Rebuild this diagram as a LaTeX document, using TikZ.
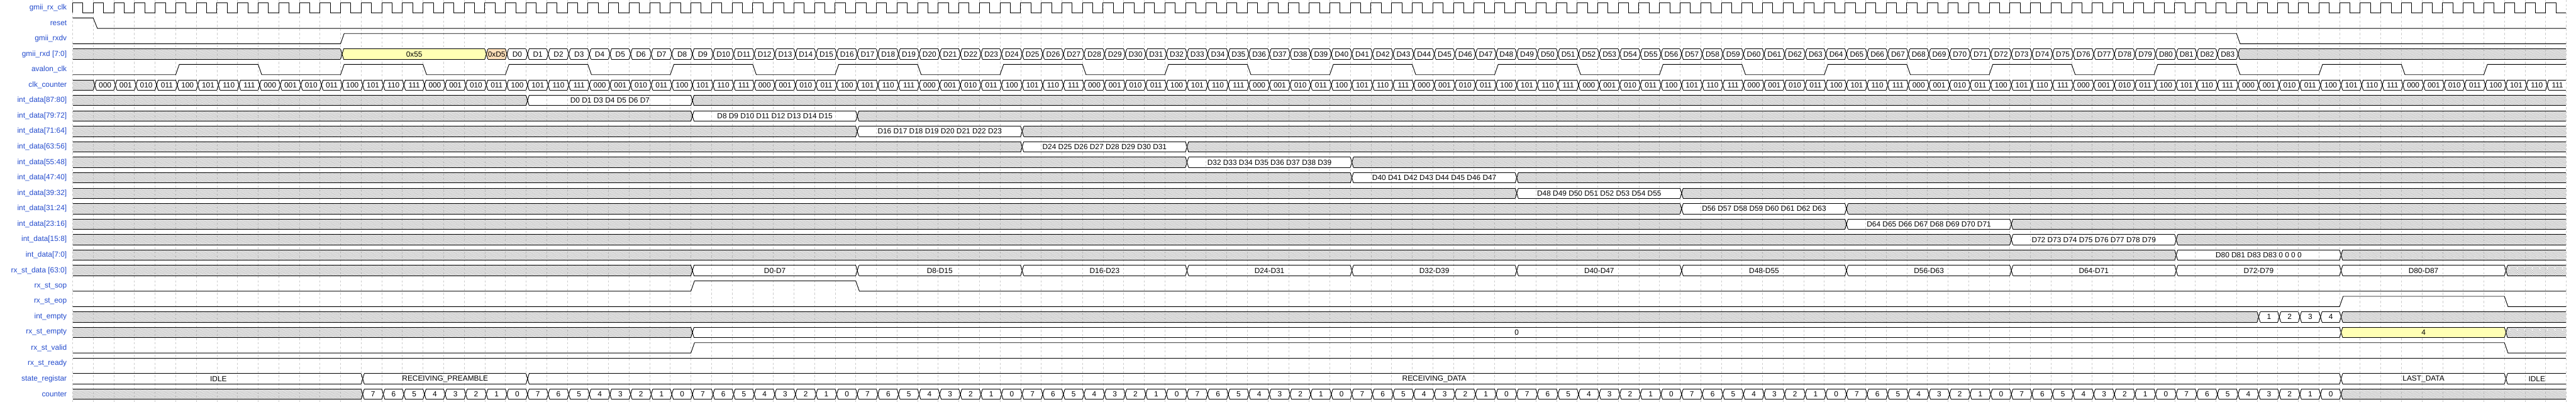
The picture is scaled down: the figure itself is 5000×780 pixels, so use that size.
\documentclass[tikz,border=0pt]{standalone}
\usepackage{fontspec}
\setmainfont{Liberation Sans}
\usetikzlibrary{patterns}
\definecolor{labelblue}{RGB}{35,75,205}
\definecolor{busyellow}{RGB}{255,255,180}
\definecolor{busorange}{RGB}{255,224,185}
\definecolor{gridgray}{RGB}{205,205,205}
\definecolor{hatchgray}{RGB}{140,140,140}

% hatch for undefined values, one tile holds five lines
\pgfdeclarepatternformonly{hatchx}{\pgfqpoint{0pt}{0pt}}{\pgfqpoint{7pt}{10pt}}{\pgfqpoint{7pt}{10pt}}{%
  \pgfsetlinewidth{0.28pt}%
  \foreach \s/\e in {-7/0,-5.6/1.4,-4.2/2.8,-2.8/4.2,-1.4/5.6,0/7,1.4/8.4,2.8/9.8,4.2/11.2,5.6/12.6} {%
    \pgfpathmoveto{\pgfqpoint{\s pt}{0pt}}\pgfpathlineto{\pgfqpoint{\e pt}{10pt}}%
  }%
  \pgfusepath{stroke}%
}

% one bus cell: row, first period, end period, value, fill
\newcommand{\buscell}[5]{%
  \pgfmathsetmacro{\bxa}{141+40*#2}%
  \pgfmathsetmacro{\bxb}{141+40*#3}%
  \pgfmathsetmacro{\byt}{30*#1+5}%
  \pgfmathsetmacro{\byb}{30*#1+25}%
  \pgfmathsetmacro{\bym}{30*#1+15}%
  \ifnum#2=0 \let\bxl\bxa \let\bxlm\bxa \else \pgfmathsetmacro{\bxl}{\bxa+6}\pgfmathsetmacro{\bxlm}{\bxa+3}\fi
  \ifnum#3=121 \let\bxrm\bxb \else \pgfmathsetmacro{\bxrm}{\bxb+3}\fi
  \path[#5] (\bxl,\byt) -- (\bxb,\byt) -- (\bxrm,\bym) -- (\bxb,\byb) -- (\bxl,\byb) -- (\bxlm,\bym) -- cycle;
  \draw[wave] (\bxl,\byt) -- (\bxb,\byt) (\bxl,\byb) -- (\bxb,\byb);
  \ifnum#2=0 \else \draw[wave] (\bxl,\byt) -- (\bxlm,\bym) -- (\bxl,\byb);\fi
  \ifnum#3=121 \else \draw[wave] (\bxb,\byt) -- (\bxrm,\bym) -- (\bxb,\byb);\fi
  \node[valtext] at ({(\bxa+\bxb)/2+3},\bym) {#4};
}
\newcommand{\bincode}[1]{\ifcase#1 000\or 001\or 010\or 011\or 100\or 101\or 110\or 111\fi}

\begin{document}
\begin{tikzpicture}[x=0.5pt, y=-0.5pt,
    wave/.style={line width=0.55pt, black, line join=miter},
    hatch/.style={pattern=hatchx, pattern color=hatchgray},
    valtext/.style={font=\fontsize{7.25}{8.7}\selectfont, inner sep=0pt},
    siglabel/.style={font=\fontsize{7.25}{8.7}\selectfont, text=labelblue, anchor=east, inner sep=0pt},
    gridline/.style={gridgray, line width=0.4pt, dash pattern=on 2pt off 2pt}
  ]
  \fill[white] (0,0) rectangle (5000,780);
  \useasboundingbox (0,0) rectangle (5000,780);

  % grid
  \foreach \k in {0,...,121}
    \draw[gridline] ({141+40*\k},0) -- ({141+40*\k},780);

  % signal names
  \foreach \sname [count=\r from 0] in {gmii\_rx\_clk, reset, gmii\_rxdv, {gmii\_rxd [7:0]}, avalon\_clk, clk\_counter,
      {int\_data[87:80]}, {int\_data[79:72]}, {int\_data[71:64]}, {int\_data[63:56]}, {int\_data[55:48]}, {int\_data[47:40]},
      {int\_data[39:32]}, {int\_data[31:24]}, {int\_data[23:16]}, {int\_data[15:8]}, {int\_data[7:0]},
      {rx\_st\_data [63:0]}, rx\_st\_sop, rx\_st\_eop, int\_empty, rx\_st\_empty, rx\_st\_valid, rx\_st\_ready,
      state\_registar, counter}
    \node[siglabel] (lbl\r) at (130,{30*\r+15}) {\sname};

  % gmii_rx_clk
  \draw[wave] (141,25) \foreach \k in {0,...,120} { -- ({141+40*\k},25) -- ({141+40*\k},5) -- ({161+40*\k},5) -- ({161+40*\k},25) } -- (4981,25);
  % reset
  \draw[wave] (141,35) -- (181,35) -- (189,55) -- (4981,55);
  % gmii_rxdv
  \draw[wave] (141,85) -- (661,85) -- (668,65) -- (4341,65) -- (4348,85) -- (4981,85);
  % gmii_rxd
  \buscell{3}{0}{13}{}{hatch}
  \buscell{3}{13}{20}{0x55}{fill=busyellow}
  \buscell{3}{20}{21}{0xD5}{fill=busorange}
  \foreach \dd in {0,...,83} {
    \pgfmathtruncatemacro\ka{21+\dd}\pgfmathtruncatemacro\kb{22+\dd}
    \buscell{3}{\ka}{\kb}{D\dd}{}
  }
  \buscell{3}{105}{121}{}{hatch}
  % avalon_clk
  \draw[wave] (141,145) \foreach \m in {0,...,13} { -- ({141+40*(5+8*\m)},145) -- ({148+40*(5+8*\m)},125) -- ({141+40*(9+8*\m)},125) -- ({148+40*(9+8*\m)},145) } -- (4821,145) -- (4828,125) -- (4981,125);
  % clk_counter
  \buscell{5}{0}{1}{}{hatch}
  \foreach \k in {1,...,120} {
    \pgfmathtruncatemacro\kb{\k+1}\pgfmathtruncatemacro\cv{mod(\k-1,8)}
    \buscell{5}{\k}{\kb}{\bincode{\cv}}{}
  }
  % int_data
  \foreach \txt [count=\ii from 0] in {{D0 D1 D3 D4 D5 D6 D7}, {D8 D9 D10 D11 D12 D13 D14 D15},
      {D16 D17 D18 D19 D20 D21 D22 D23}, {D24 D25 D26 D27 D28 D29 D30 D31}, {D32 D33 D34 D35 D36 D37 D38 D39},
      {D40 D41 D42 D43 D44 D45 D46 D47}, {D48 D49 D50 D51 D52 D53 D54 D55}, {D56 D57 D58 D59 D60 D61 D62 D63},
      {D64 D65 D66 D67 D68 D69 D70 D71}, {D72 D73 D74 D75 D76 D77 D78 D79}, {D80 D81 D83 D83 0 0 0 0}} {
    \pgfmathtruncatemacro\rr{6+\ii}\pgfmathtruncatemacro\ka{22+8*\ii}\pgfmathtruncatemacro\kb{30+8*\ii}
    \buscell{\rr}{0}{\ka}{}{hatch}
    \buscell{\rr}{\ka}{\kb}{\txt}{}
    \buscell{\rr}{\kb}{121}{}{hatch}
  }
  % rx_st_data
  \buscell{17}{0}{30}{}{hatch}
  \foreach \j in {0,...,10} {
    \pgfmathtruncatemacro\ka{30+8*\j}\pgfmathtruncatemacro\kb{38+8*\j}
    \pgfmathtruncatemacro\da{8*\j}\pgfmathtruncatemacro\db{8*\j+7}
    \buscell{17}{\ka}{\kb}{D\da-D\db}{}
  }
  \buscell{17}{118}{121}{}{hatch}
  % rx_st_sop, rx_st_eop
  \draw[wave] (141,565) -- (1341,565) -- (1348,545) -- (1661,545) -- (1668,565) -- (4981,565);
  \draw[wave] (141,595) -- (4541,595) -- (4548,575) -- (4861,575) -- (4868,595) -- (4981,595);
  % int_empty
  \buscell{20}{0}{106}{}{hatch}
  \foreach \vv in {1,...,4} {
    \pgfmathtruncatemacro\ka{105+\vv}\pgfmathtruncatemacro\kb{106+\vv}
    \buscell{20}{\ka}{\kb}{\vv}{}
  }
  \buscell{20}{110}{121}{}{hatch}
  % rx_st_empty
  \buscell{21}{0}{30}{}{hatch}
  \buscell{21}{30}{110}{0}{}
  \buscell{21}{110}{118}{4}{fill=busyellow}
  \buscell{21}{118}{121}{}{hatch}
  % rx_st_valid, rx_st_ready
  \draw[wave] (141,685) -- (1341,685) -- (1348,665) -- (4861,665) -- (4868,685) -- (4981,685);
  \draw[wave] (141,695) -- (4981,695);
  % state_registar
  \buscell{24}{0}{14}{IDLE}{}
  \buscell{24}{14}{22}{RECEIVING\_PREAMBLE}{}
  \buscell{24}{22}{110}{RECEIVING\_DATA}{}
  \buscell{24}{110}{118}{LAST\_DATA}{}
  \buscell{24}{118}{121}{IDLE}{}
  % counter
  \buscell{25}{0}{14}{}{hatch}
  \foreach \k in {14,...,109} {
    \pgfmathtruncatemacro\kb{\k+1}\pgfmathtruncatemacro\cv{7-mod(\k-14,8)}
    \buscell{25}{\k}{\kb}{\cv}{}
  }
  \buscell{25}{110}{121}{}{hatch}
\end{tikzpicture}
\end{document}
